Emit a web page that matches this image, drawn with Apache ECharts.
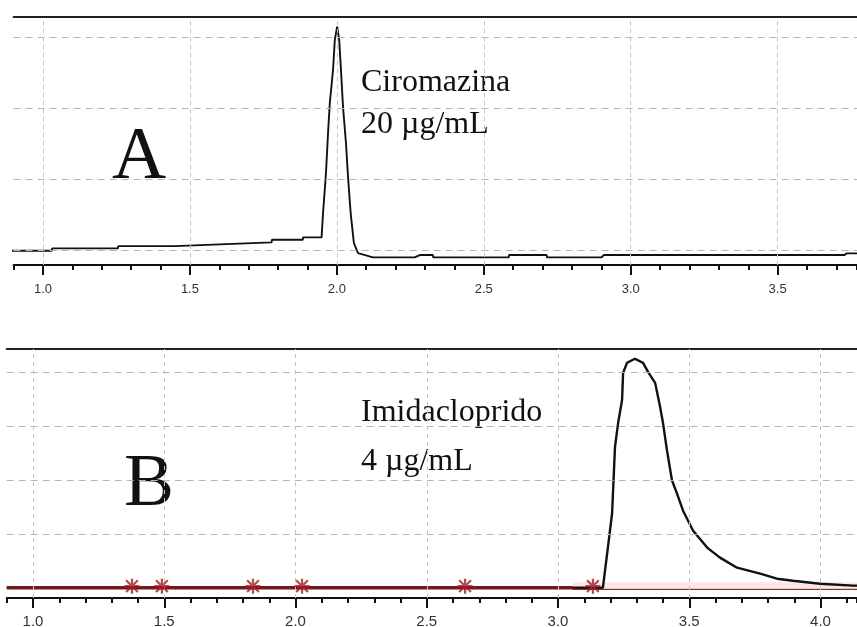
<!DOCTYPE html>
<html>
<head>
<meta charset="utf-8">
<title>Cromatogramas</title>
<script src="https://cdn.jsdelivr.net/npm/echarts@6.0.0/dist/echarts.min.js"></script>
<style>
    html, body { margin: 0; padding: 0; background: #fff; }
    #main { width: 857px; height: 627px; }
</style>
</head>
<body>
<div id="main"></div>
<script>
// ---- datos ----
// A: ciromazina, tiempo (min) / senal (unidades de rejilla)
var timeA = [0.888, 1.030, 1.031, 1.255, 1.256, 1.449, 1.450, 1.602, 1.603, 1.778, 1.779, 1.884, 1.885, 1.948,
    1.953, 1.963, 1.970, 1.976, 1.987, 1.993, 2.001, 2.008, 2.014, 2.021, 2.031, 2.038, 2.047, 2.058, 2.072,
    2.123, 2.265, 2.282, 2.327, 2.328, 2.585, 2.586, 2.714, 2.715, 2.901, 2.908, 3.728, 3.735, 3.77];
var signalA = [-0.01, -0.01, 0.024, 0.024, 0.056, 0.056, 0.080, 0.080, 0.108, 0.108, 0.145, 0.145, 0.179, 0.179,
    0.521, 1.085, 1.648, 2.070, 2.535, 2.958, 3.145, 2.958, 2.535, 2.014, 1.507, 1.028, 0.521, 0.099, -0.042,
    -0.103, -0.103, -0.070, -0.070, -0.103, -0.103, -0.070, -0.070, -0.103, -0.103, -0.070, -0.070, -0.046, -0.046];

// B: imidacloprid
var timeB = [0.9, 3.171, 3.190, 3.206, 3.217, 3.229, 3.244, 3.248, 3.263, 3.293, 3.324, 3.343, 3.370, 3.389,
    3.400, 3.415, 3.434, 3.453, 3.476, 3.514, 3.568, 3.617, 3.682, 3.770, 3.834, 3.895, 3.998, 4.002, 4.124, 4.139];
var signalB = [0, 0, 0.745, 1.378, 2.607, 3.054, 3.482, 3.985, 4.171, 4.246, 4.171, 4.004, 3.799, 3.352,
    3.054, 2.551, 1.993, 1.750, 1.434, 1.061, 0.745, 0.559, 0.372, 0.261, 0.168, 0.130, 0.074, 0.04, 0.04, 0.04];

// linea base (roja) y marcas de integracion (asteriscos)
var baseTime1 = [0.9, 3.055];
var baseLevel1 = [0, 0];
var baseTime2 = [3.055, 4.139];
var baseLevel2 = [-0.03, -0.03];
var starTime = [1.377, 1.491, 1.838, 2.025, 2.646, 3.133];

// ejes y rejilla
var labelsA = [1.0, 1.5, 2.0, 2.5, 3.0, 3.5];
var labelsB = [1.0, 1.5, 2.0, 2.5, 3.0, 3.5, 4.0];
var gridRowsA = [0, 1, 2, 3];
var gridRowsB = [1, 2, 3, 4];   // la fila 0 queda bajo la linea base

// asterisco de brazos gruesos
var ASTERISK = 'path://M8.5 0H11.5V20H8.5Z M0 8.5H20V11.5H0Z M3.2 1.1L18.9 16.8L16.8 18.9L1.1 3.2Z M16.8 1.1L18.9 3.2L3.2 18.9L1.1 16.8Z';

function pairs(xs, ys) {
    var out = [];
    for (var i = 0; i < xs.length; i++) {
        out.push([xs[i], ys[i]]);
    }
    return out;
}

// lineas de rejilla discontinuas (horizontales y verticales)
function gridLines(rows, cols) {
    var data = [];
    for (var i = 0; i < rows.length; i++) {
        data.push({ yAxis: rows[i], lineStyle: { color: '#b5b5b5', type: [7, 5], width: 1 } });
    }
    for (var j = 0; j < cols.length; j++) {
        data.push({ xAxis: cols[j], lineStyle: { color: '#c4c4c4', type: [4, 4], width: 1 } });
    }
    return {
        silent: true,
        symbol: 'none',
        label: { show: false },
        animation: false,
        data: data
    };
}

function isMajor(v) {
    return Math.abs(v * 2 - Math.round(v * 2)) < 1e-6;
}

// tres ejes x por panel: menor (0.1), mayor (0.5, con etiquetas) y borde superior
function xAxes(gridIndex, min, max, labels, fontSize, margin) {
    return [{
        type: 'value', gridIndex: gridIndex, position: 'bottom', min: min, max: max, interval: 0.1,
        axisLine: { show: true, onZero: false, lineStyle: { color: '#111', width: 2 } },
        axisTick: { show: true, length: 5, lineStyle: { color: '#111', width: 2 } },
        axisLabel: { show: false },
        splitLine: { show: false }
    }, {
        type: 'value', gridIndex: gridIndex, position: 'bottom', min: min, max: max,
        axisLine: { show: false, onZero: false },
        axisTick: { show: true, length: 10, customValues: labels, lineStyle: { color: '#111', width: 2 } },
        axisLabel: {
            show: true, customValues: labels, margin: margin,
            fontFamily: 'Liberation Sans', fontSize: fontSize, color: '#333',
            formatter: function (v) { return isMajor(v) ? v.toFixed(1) : ''; }
        },
        splitLine: { show: false }
    }, {
        type: 'value', gridIndex: gridIndex, position: 'top', min: min, max: max,
        axisLine: { show: true, onZero: false, lineStyle: { color: '#222', width: 2 } },
        axisTick: { show: false },
        axisLabel: { show: false },
        splitLine: { show: false }
    }];
}

function drawChart() {
    var myChart = echarts.init(document.getElementById('main'));
    var serif = '32px "Liberation Serif"';

    var option = {
        backgroundColor: '#fff',
        animation: false,
        grid: [
            { left: 13.6, right: 0, top: 17, bottom: 362, outerBoundsMode: 'none' },
            { left: 6.75, right: 0, top: 349, bottom: 29, outerBoundsMode: 'none' }
        ],
        xAxis: xAxes(0, 0.9, 3.77, labelsA, 13, 18).concat(xAxes(1, 0.9, 4.139, labelsB, 15, 16)),
        yAxis: [
            { type: 'value', gridIndex: 0, min: -0.21, max: 3.28, show: false },
            { type: 'value', gridIndex: 1, min: -0.19, max: 4.427, show: false }
        ],
        series: [{
            // A
            name: 'Ciromazina',
            type: 'line',
            xAxisIndex: 0, yAxisIndex: 0,
            data: pairs(timeA, signalA),
            showSymbol: false,
            lineStyle: { color: '#111', width: 1.9 },
            markLine: gridLines(gridRowsA, labelsA),
            z: 3
        }, {
            // B
            name: 'Imidacloprido',
            type: 'line',
            xAxisIndex: 3, yAxisIndex: 1,
            data: pairs(timeB, signalB),
            showSymbol: false,
            lineStyle: { color: '#111', width: 2.4 },
            markLine: gridLines(gridRowsB, labelsB),
            z: 3
        }, {
            // franja rosada sobre la linea base
            type: 'line',
            xAxisIndex: 3, yAxisIndex: 1,
            data: pairs(baseTime2, [0.05, 0.05]),
            showSymbol: false,
            lineStyle: { color: 'rgba(240,160,160,0.25)', width: 6 },
            z: 2
        }, {
            type: 'line',
            xAxisIndex: 3, yAxisIndex: 1,
            data: pairs(baseTime2, baseLevel2),
            showSymbol: false,
            lineStyle: { color: '#8e2b2b', width: 1.3 },
            z: 4
        }, {
            type: 'line',
            xAxisIndex: 3, yAxisIndex: 1,
            data: pairs(baseTime1, baseLevel1),
            showSymbol: false,
            lineStyle: { color: '#751818', width: 3.4 },
            z: 4
        }, {
            type: 'scatter',
            xAxisIndex: 3, yAxisIndex: 1,
            data: pairs(starTime, starTime.map(function () { return 0.03; })),
            symbol: ASTERISK,
            symbolSize: 15,
            itemStyle: { color: '#a01e28' },
            z: 5
        }],
        graphic: [
            { type: 'text', x: 112, y: 158, style: { text: 'A', font: '75px "Liberation Serif"', fill: '#111', textVerticalAlign: 'middle' } },
            { type: 'text', x: 361, y: 83, style: { text: 'Ciromazina', font: serif, fill: '#111', textVerticalAlign: 'middle' } },
            { type: 'text', x: 361, y: 125, style: { text: '20 µg/mL', font: serif, fill: '#111', textVerticalAlign: 'middle' } },
            { type: 'text', x: 124, y: 485, style: { text: 'B', font: '75px "Liberation Serif"', fill: '#111', textVerticalAlign: 'middle' } },
            { type: 'text', x: 361, y: 413, style: { text: 'Imidacloprido', font: serif, fill: '#111', textVerticalAlign: 'middle' } },
            { type: 'text', x: 361, y: 462, style: { text: '4 µg/mL', font: serif, fill: '#111', textVerticalAlign: 'middle' } }
        ]
    };
    myChart.setOption(option);
}

drawChart();
</script>
</body>
</html>
